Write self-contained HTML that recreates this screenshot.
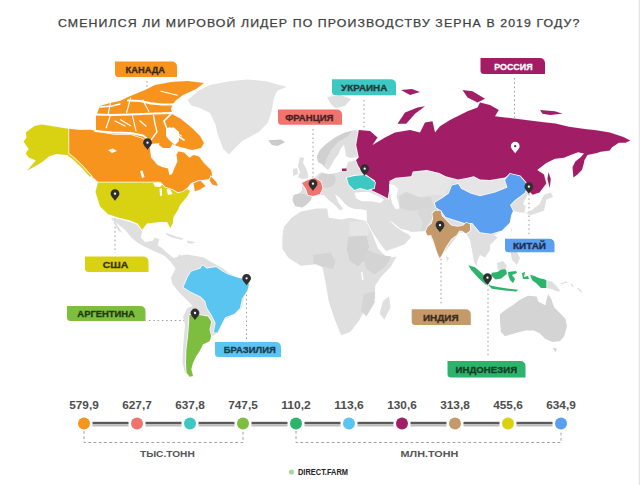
<!DOCTYPE html>
<html><head><meta charset="utf-8"><style>
html,body{margin:0;padding:0;background:#fff;width:640px;height:485px;overflow:hidden}
svg{display:block;font-family:"Liberation Sans",sans-serif}
</style></head><body>
<svg width="640" height="485" viewBox="0 0 640 485">
<line x1="147" y1="81" x2="147" y2="141" stroke="#9a9a9a" stroke-width="1" stroke-dasharray="1.5 2.8"/>
<line x1="364" y1="100" x2="364" y2="165" stroke="#9a9a9a" stroke-width="1" stroke-dasharray="1.5 2.8"/>
<line x1="313" y1="129" x2="313" y2="178" stroke="#9a9a9a" stroke-width="1" stroke-dasharray="1.5 2.8"/>
<line x1="514.5" y1="78" x2="514.5" y2="141" stroke="#9a9a9a" stroke-width="1" stroke-dasharray="1.5 2.8"/>
<line x1="529" y1="194" x2="529" y2="235" stroke="#9a9a9a" stroke-width="1" stroke-dasharray="1.5 2.8"/>
<line x1="115" y1="201" x2="115" y2="253" stroke="#9a9a9a" stroke-width="1" stroke-dasharray="1.5 2.8"/>
<line x1="149" y1="320.5" x2="190" y2="320.5" stroke="#9a9a9a" stroke-width="1" stroke-dasharray="1.5 2.8"/>
<line x1="246.5" y1="286" x2="246.5" y2="339" stroke="#9a9a9a" stroke-width="1" stroke-dasharray="1.5 2.8"/>
<line x1="441" y1="233" x2="441" y2="306" stroke="#9a9a9a" stroke-width="1" stroke-dasharray="1.5 2.8"/>
<line x1="488" y1="285" x2="488" y2="358" stroke="#9a9a9a" stroke-width="1" stroke-dasharray="1.5 2.8"/>
<path d="M187.5,100.0 L198.8,90.6 L210.0,85.0 L228.8,81.2 L247.5,79.4 L266.2,81.2 L286.9,86.9 L277.5,90.6 L273.8,98.1 L271.9,109.4 L268.1,122.5 L258.8,131.9 L241.9,141.2 L234.4,148.8 L228.8,154.4 L223.1,148.8 L217.5,133.8 L215.6,124.4 L210.0,113.1 L198.8,107.5 L191.2,105.6Z" fill="#e3e3e3"/>
<path d="M268.1,140.3 L281.2,139.4 L285.0,142.2 L277.5,146.0 L271.9,145.0Z" fill="#cbcbcb"/>
<path d="M327.0,97.0 L340.0,95.0 L351.0,99.0 L345.0,106.0 L335.0,108.0 L330.0,103.0Z" fill="#dfdfdf"/>
<path d="M110.9,218.0 L117.2,218.8 L129.7,221.9 L137.5,225.0 L142.2,231.2 L140.6,237.5 L145.3,242.2 L153.1,240.6 L154.7,237.5 L159.4,239.0 L157.8,245.3 L162.5,248.4 L167.2,253.1 L173.4,257.8 L178.1,259.4 L181.2,256.2 L179.0,254.0 L178.0,258.0 L171.9,259.4 L162.5,254.7 L151.6,250.0 L139.0,243.8 L131.2,237.5 L125.0,229.7 L117.2,223.4 L112.5,220.3Z" fill="#dfdfdf"/>
<path d="M114.0,220.3 L120.3,229.7 L121.9,232.8 L118.8,231.2 L114.0,223.4Z" fill="#dfdfdf"/>
<path d="M165.6,232.8 L175.0,235.9 L184.4,239.0 L181.2,239.8 L171.9,237.5 L167.2,235.2Z" fill="#dfdfdf"/>
<path d="M187.5,240.6 L195.3,242.2 L192.2,243.8 L187.5,243.0Z" fill="#dfdfdf"/>
<path d="M160.0,248.1 L166.2,254.4 L172.5,259.0 L178.8,255.9 L186.6,254.4 L195.9,255.9 L203.8,257.5 L211.6,262.2 L220.9,266.9 L228.8,273.1 L238.1,277.8 L246.0,279.4 L249.0,282.5 L247.5,288.8 L243.8,296.9 L241.9,308.1 L236.2,313.8 L225.0,319.4 L219.4,328.8 L215.6,334.4 L211.2,336.3 L209.5,341.2 L202.9,344.5 L199.6,351.2 L196.3,356.1 L193.0,362.7 L191.3,369.3 L193.0,375.9 L189.7,376.7 L184.8,372.6 L182.5,362.7 L183.0,349.5 L184.0,336.3 L185.0,324.8 L183.0,316.5 L187.5,308.0 L192.8,305.9 L186.6,299.7 L178.8,291.9 L172.5,284.0 L170.9,277.8 L175.6,268.4 L170.0,261.0 L163.0,254.0Z" fill="#dfdfdf"/>
<path d="M282.4,236.4 L283.9,227.1 L291.6,217.8 L300.9,211.6 L316.4,208.5 L327.2,208.5 L328.7,217.8 L341.1,219.4 L350.3,217.8 L365.8,220.9 L372.0,233.3 L378.2,248.7 L387.4,258.0 L396.7,256.4 L390.5,267.3 L381.2,276.5 L375.1,285.8 L375.1,298.2 L365.8,307.4 L359.6,319.8 L350.3,332.1 L341.1,335.2 L334.9,319.8 L328.7,301.2 L325.6,282.7 L322.5,267.3 L316.4,264.2 L300.9,265.7 L288.5,258.0 L282.4,248.7Z" fill="#dfdfdf"/>
<path d="M348.2,237.0 L366.4,235.6 L369.1,246.8 L363.6,260.7 L358.0,266.3 L349.6,260.7 L346.9,249.6Z" fill="#d2d2d2"/>
<path d="M366.4,249.6 L380.3,255.1 L391.4,256.5 L385.8,266.3 L374.7,274.6 L366.4,269.0 L363.6,260.7Z" fill="#d4d4d4"/>
<path d="M313.4,255.1 L330.1,252.4 L335.7,260.7 L332.9,269.0 L321.8,266.3 L313.4,263.5Z" fill="#d4d4d4"/>
<path d="M363.6,294.0 L374.7,291.4 L374.7,302.5 L366.4,316.4 L360.8,310.8Z" fill="#d5d5d5"/>
<path d="M349.6,221.7 L365.8,221.0 L369.0,230.0 L368.0,235.6 L349.6,235.6Z" fill="#e6e6e6"/>
<path d="M361.0,272.0 L362.5,272.0 L363.6,280.0 L362.0,280.0Z" fill="#ffffff"/>
<path d="M389.0,296.6 L390.5,307.4 L384.3,319.8 L379.7,313.6 L382.8,301.2Z" fill="#dfdfdf"/>
<path d="M292.5,200.0 L293.8,195.0 L299.0,193.5 L302.0,190.0 L302.0,183.0 L308.0,180.0 L315.0,177.0 L320.0,173.0 L326.0,171.0 L322.0,172.0 L324.0,175.0 L329.0,174.0 L336.0,173.0 L342.0,171.0 L346.0,168.0 L348.0,162.0 L356.0,160.0 L370.0,150.0 L400.0,165.0 L450.0,172.0 L500.0,175.0 L530.0,190.0 L522.5,205.0 L525.0,212.5 L520.0,212.5 L513.0,211.0 L511.0,216.0 L509.5,223.0 L502.0,231.0 L494.0,235.0 L497.5,237.5 L490.0,245.0 L490.0,250.0 L485.0,257.5 L480.0,255.0 L477.0,262.0 L477.0,266.0 L474.0,262.0 L472.0,250.0 L470.0,240.0 L466.0,233.0 L460.0,232.5 L440.0,258.0 L430.0,236.0 L427.0,231.0 L411.0,232.0 L408.0,230.5 L401.0,229.0 L392.0,222.0 L389.0,220.0 L395.0,226.0 L402.0,231.0 L408.0,234.0 L411.0,237.0 L405.0,244.0 L395.0,248.0 L386.0,251.0 L381.0,245.0 L373.0,233.0 L367.0,222.0 L366.6,210.6 L360.0,209.0 L355.0,209.0 L349.0,207.0 L345.0,204.0 L340.0,198.0 L335.0,194.0 L338.0,202.0 L343.0,208.8 L340.0,210.6 L333.8,204.0 L328.0,199.4 L324.0,195.0 L320.0,195.0 L313.0,196.0 L311.0,200.0 L306.0,205.0 L302.0,207.5 L295.0,206.0Z" fill="#dfdfdf"/>
<path d="M293.8,195.0 L299.0,193.5 L303.8,194.0 L311.0,196.0 L311.0,200.0 L306.0,205.0 L302.0,207.5 L295.0,206.0 L292.5,200.0Z" fill="#d0d0d0"/>
<path d="M318.0,178.0 L322.0,173.0 L329.0,174.0 L334.0,174.0 L336.0,180.0 L333.0,186.0 L326.0,188.0 L321.0,186.0Z" fill="#d3d3d3"/>
<path d="M389.0,181.0 L396.0,177.0 L411.0,175.0 L413.0,171.0 L427.0,170.0 L439.0,173.0 L446.0,176.0 L453.0,180.0 L448.3,187.5 L444.0,196.0 L434.0,194.5 L420.0,197.3 L406.0,191.7 L393.4,197.3 L389.0,190.0Z" fill="#e6e6e6"/>
<path d="M399.0,197.0 L406.0,192.0 L420.0,197.5 L431.0,197.0 L433.0,204.0 L430.0,211.0 L420.0,210.0 L410.0,211.0 L400.0,208.0Z" fill="#d6d6d6"/>
<path d="M452.5,180.0 L460.0,179.0 L468.0,177.5 L474.0,176.5 L480.0,179.5 L490.0,180.0 L505.0,177.5 L507.5,187.5 L495.0,192.5 L480.0,196.0 L470.6,193.4 L461.2,188.8Z" fill="#e5e5e5"/>
<path d="M420.0,208.0 L430.0,207.0 L435.0,203.0 L440.0,207.0 L435.0,213.0 L432.0,218.0 L428.0,224.0 L427.0,231.0 L421.0,231.0 L423.0,222.0 L418.0,214.0Z" fill="#d8d8d8"/>
<path d="M300.0,157.0 L304.0,158.0 L303.0,163.0 L306.0,168.0 L308.0,174.0 L308.0,178.0 L302.0,179.0 L298.0,177.0 L300.0,172.0 L298.0,166.0 L299.0,161.0Z" fill="#dfdfdf"/>
<path d="M293.0,169.0 L297.0,168.0 L298.0,174.0 L293.0,176.0Z" fill="#dfdfdf"/>
<path d="M317.0,156.0 L320.0,150.0 L325.0,145.0 L335.0,137.5 L345.0,132.5 L355.0,130.0 L359.0,131.0 L357.0,140.0 L356.0,148.0 L358.0,157.0 L350.0,158.0 L346.0,156.0 L345.0,150.0 L344.0,145.0 L341.0,148.0 L338.0,155.0 L334.0,160.0 L331.0,166.0 L328.0,170.0 L324.0,167.0 L322.0,164.0 L318.0,162.0Z" fill="#dfdfdf"/>
<path d="M317.0,156.0 L320.0,150.0 L325.0,145.0 L335.0,137.5 L345.0,132.5 L352.0,131.0 L348.0,136.0 L338.0,142.0 L331.0,150.0 L327.0,158.0 L324.0,166.0 L322.0,164.0 L318.0,162.0Z" fill="#d0d0d0"/>
<path d="M550.8,192.6 L553.0,197.0 L546.3,199.4 L544.0,210.7 L537.2,213.0 L530.4,215.2 L525.9,213.0 L532.7,209.6 L539.5,203.9 L544.0,194.8Z" fill="#dfdfdf"/>
<path d="M510.0,250.0 L515.0,248.0 L520.0,258.0 L517.0,265.0 L512.0,260.0Z" fill="#dfdfdf"/>
<path d="M446.0,256.0 L449.0,258.0 L447.0,262.0Z" fill="#dfdfdf"/>
<path d="M500.0,314.0 L505.0,310.2 L513.7,304.4 L519.4,300.1 L528.1,295.8 L536.7,296.5 L538.2,301.5 L545.4,305.2 L546.8,298.7 L548.3,294.3 L551.2,298.7 L554.1,307.3 L561.3,314.5 L565.6,318.9 L567.0,326.1 L564.2,336.2 L559.8,341.2 L552.6,342.0 L545.4,339.1 L539.6,333.3 L533.9,330.4 L525.2,330.4 L515.1,333.3 L505.0,336.2 L501.0,332.0 L500.0,322.0Z" fill="#d4d4d4"/>
<path d="M552.6,347.7 L557.0,348.4 L555.5,352.0Z" fill="#d4d4d4"/>
<path d="M546.4,280.3 L551.9,281.4 L556.2,285.8 L560.6,291.2 L556.2,291.2 L551.9,289.0 L546.4,288.0Z" fill="#dfdfdf"/>
<path d="M68.8,128.8 L80.0,130.0 L90.0,129.8 L102.2,131.9 L114.4,133.9 L130.6,133.9 L142.8,138.0 L147.0,142.0 L150.0,148.8 L151.0,157.5 L157.5,165.0 L162.0,167.0 L168.0,168.5 L169.4,175.2 L172.1,173.9 L174.8,167.2 L177.4,161.8 L176.1,151.1 L184.1,152.4 L189.5,157.8 L193.5,155.1 L198.9,156.5 L204.2,163.2 L211.0,169.9 L212.3,175.2 L208.3,179.2 L197.5,180.6 L190.8,183.3 L186.8,188.6 L182.8,192.7 L177.5,195.0 L172.5,190.0 L165.0,187.5 L160.0,182.5 L99.0,182.7 L91.4,176.1 L81.6,165.2 L74.0,158.0 L68.4,153.3Z" fill="#f7941d" stroke="#fbfbfb" stroke-width="1.6" paint-order="stroke"/>
<path d="M98.0,182.6 L160.0,182.5 L165.0,187.5 L172.5,190.0 L177.5,193.0 L183.0,192.0 L187.0,189.0 L190.0,191.0 L187.5,196.0 L180.0,205.0 L178.1,209.4 L173.4,217.2 L172.7,223.4 L170.3,228.1 L167.2,221.9 L159.4,221.9 L146.9,223.4 L142.2,229.7 L137.5,223.4 L129.7,220.3 L117.2,217.2 L107.8,214.0 L100.0,206.2 L95.5,192.0Z" fill="#d8d212" stroke="#fbfbfb" stroke-width="1.6" paint-order="stroke"/>
<path d="M25.8,132.4 L34.4,125.9 L41.7,124.4 L68.4,128.8 L68.4,153.5 L74.0,158.0 L81.6,165.2 L91.4,176.1 L90.0,177.0 L80.5,166.5 L73.0,159.5 L67.0,155.0 L56.4,154.0 L48.8,156.4 L42.2,161.9 L37.3,164.9 L27.2,170.6 L35.9,160.5 L28.7,157.6 L25.8,153.3 L28.7,149.0 L23.6,141.8 L26.5,137.4Z" fill="#d8d212" stroke="#fbfbfb" stroke-width="1.6" paint-order="stroke"/>
<path d="M183.4,287.2 L188.1,276.2 L191.2,271.6 L200.6,268.4 L202.2,265.3 L206.9,268.4 L216.2,266.9 L222.5,271.6 L228.8,274.7 L238.1,277.8 L246.0,279.4 L249.0,284.0 L247.5,290.3 L242.0,298.8 L240.0,308.1 L234.4,313.8 L225.0,317.5 L221.2,325.0 L217.5,332.5 L213.8,332.5 L215.6,323.1 L211.9,315.6 L206.9,307.5 L205.3,301.2 L200.6,296.6 L191.2,291.9Z" fill="#5bc5f2" stroke="#fbfbfb" stroke-width="1.6" paint-order="stroke"/>
<path d="M189.4,315.0 L199.0,315.0 L207.9,316.5 L211.2,321.5 L209.5,329.7 L211.2,336.3 L209.5,341.2 L202.9,344.5 L199.6,351.2 L196.3,356.1 L193.0,362.7 L191.3,369.3 L193.0,375.9 L189.7,376.7 L186.5,372.6 L186.0,362.7 L186.4,349.5 L188.0,336.3 L189.0,324.8Z" fill="#7dbd3f" stroke="#fbfbfb" stroke-width="1.6" paint-order="stroke"/>
<path d="M356.0,160.0 L358.8,157.5 L356.2,145.0 L358.8,130.0 L370.0,131.0 L377.5,137.5 L372.5,145.0 L385.0,137.5 L395.0,132.5 L410.0,130.0 L420.0,132.5 L425.0,122.5 L432.5,121.2 L435.0,132.5 L440.0,126.2 L450.0,120.0 L457.5,116.2 L467.5,111.2 L477.5,107.5 L480.0,102.5 L490.0,105.0 L498.8,110.0 L495.0,116.2 L505.0,117.5 L525.9,120.0 L544.0,122.3 L555.4,123.4 L569.0,126.8 L584.8,129.0 L596.2,130.2 L609.8,132.5 L623.4,137.0 L630.2,140.4 L625.6,142.7 L618.8,142.7 L612.0,147.2 L609.8,150.6 L600.7,151.8 L596.9,153.1 L587.5,155.0 L584.5,160.0 L583.8,163.4 L581.9,170.0 L577.2,174.7 L573.4,177.5 L572.5,167.2 L575.3,161.6 L581.0,156.9 L584.0,153.5 L578.0,152.2 L570.6,155.0 L564.0,157.8 L555.0,158.8 L546.3,163.1 L537.2,169.9 L544.0,174.4 L546.3,183.5 L539.5,192.6 L532.7,194.8 L528.1,190.3 L523.6,179.0 L520.0,176.2 L510.0,173.8 L505.0,177.5 L490.0,180.0 L480.0,179.4 L473.8,176.2 L467.5,177.8 L458.1,179.4 L445.6,176.2 L439.4,173.1 L426.9,170.0 L412.8,171.6 L411.2,176.2 L395.6,177.8 L389.4,181.0 L389.4,188.8 L387.8,197.3 L388.1,198.4 L382.5,195.6 L376.9,192.8 L371.2,190.0 L375.0,186.2 L375.0,180.6 L369.4,176.9 L361.9,171.2 L358.1,165.6Z" fill="#a11e66" stroke="#fbfbfb" stroke-width="1.6" paint-order="stroke"/>
<path d="M397.5,123.8 L405.0,112.5 L417.5,107.5 L425.0,106.2 L415.0,113.8 L406.2,123.8Z" fill="#a11e66"/>
<path d="M462.5,90.0 L472.5,91.2 L485.0,98.8 L477.5,102.5 L467.5,97.5Z" fill="#a11e66"/>
<path d="M540.0,110.0 L555.0,111.2 L562.5,113.8 L550.0,115.0 L542.5,113.8Z" fill="#a11e66"/>
<path d="M548.5,172.2 L550.8,179.0 L549.7,188.0 L547.4,179.0Z" fill="#a11e66"/>
<path d="M401.0,90.0 L412.0,89.0 L420.0,92.0 L410.0,95.0Z" fill="#a11e66"/>
<path d="M434.7,202.8 L442.5,198.1 L448.8,193.4 L451.9,185.6 L458.1,184.0 L461.2,188.8 L470.6,193.4 L480.0,196.2 L495.0,192.5 L507.5,187.5 L505.0,180.0 L510.0,173.8 L520.0,176.2 L527.5,185.0 L525.0,192.5 L515.0,200.0 L510.0,205.0 L513.0,211.0 L511.2,215.0 L509.7,222.8 L501.9,230.6 L491.0,233.8 L480.0,232.2 L472.2,223.1 L464.4,223.1 L455.0,220.0 L445.6,216.9 L440.9,210.6 L436.2,207.5Z" fill="#5a9ff0" stroke="#fbfbfb" stroke-width="1.6" paint-order="stroke"/>
<path d="M435.1,210.7 L440.5,210.7 L441.8,216.1 L445.8,220.1 L451.2,225.5 L457.9,226.8 L463.3,225.5 L466.0,222.8 L470.0,224.1 L470.0,230.8 L466.0,233.5 L461.9,230.8 L459.3,230.8 L456.6,234.9 L451.2,238.9 L445.8,246.9 L441.8,255.0 L439.8,258.3 L437.1,252.3 L433.8,241.6 L431.1,234.9 L427.7,235.5 L425.7,231.5 L427.7,226.8 L431.8,223.5 L433.1,218.8 L432.4,213.4Z" fill="#c59a6a" stroke="#fbfbfb" stroke-width="1.6" paint-order="stroke"/>
<path d="M346.9,177.8 L354.4,175.9 L363.8,175.0 L369.4,177.8 L375.0,182.5 L374.1,188.1 L367.5,190.0 L360.0,188.1 L354.4,190.0 L348.8,184.4Z" fill="#3ec8c3" stroke="#fbfbfb" stroke-width="1.6" paint-order="stroke"/>
<path d="M302.0,183.0 L308.0,180.0 L315.0,178.0 L321.0,182.0 L322.5,188.0 L320.0,194.0 L313.0,196.0 L308.0,195.0 L306.0,189.0Z" fill="#f0736e" stroke="#fbfbfb" stroke-width="1.6" paint-order="stroke"/>
<path d="M354.4,192.8 L361.9,191.9 L369.4,191.9 L376.9,195.6 L384.4,199.4 L380.6,203.1 L371.2,201.2 L361.9,201.2 L356.2,198.4Z" fill="#ffffff"/>
<path d="M389.0,184.0 L394.0,185.0 L398.0,189.0 L396.5,196.0 L398.5,203.0 L399.5,208.5 L395.5,209.0 L392.0,203.0 L390.5,196.0 L389.0,190.0Z" fill="#ffffff"/>
<path d="M468.4,265.3 L475.0,267.2 L482.5,273.8 L488.1,281.2 L490.0,286.0 L486.2,285.0 L478.8,278.4 L471.2,270.0Z" fill="#2db36b" stroke="#fbfbfb" stroke-width="1.6" paint-order="stroke"/>
<path d="M488.1,285.0 L497.5,286.9 L508.8,288.8 L518.1,289.7 L516.2,291.6 L505.0,290.6 L491.9,288.8Z" fill="#2db36b" stroke="#fbfbfb" stroke-width="1.6" paint-order="stroke"/>
<path d="M491.9,272.8 L497.5,271.9 L503.1,268.1 L506.0,270.0 L506.9,273.8 L501.2,278.4 L495.6,279.4 L491.0,275.6Z" fill="#2db36b" stroke="#fbfbfb" stroke-width="1.6" paint-order="stroke"/>
<path d="M508.0,272.0 L516.0,271.0 L517.0,273.0 L512.0,275.0 L515.0,279.0 L513.0,283.0 L510.0,280.0 L508.5,276.0Z" fill="#2db36b" stroke="#fbfbfb" stroke-width="1.6" paint-order="stroke"/>
<path d="M530.0,274.8 L534.4,276.0 L538.8,278.0 L544.2,279.2 L546.4,280.3 L546.4,288.0 L541.0,288.0 L536.6,283.6 L532.2,280.3Z" fill="#2db36b" stroke="#fbfbfb" stroke-width="1.6" paint-order="stroke"/>
<path d="M96.0,116.0 L100.0,106.0 L110.0,103.0 L120.0,101.0 L128.0,97.0 L145.0,90.0 L155.0,85.0 L171.0,82.0 L187.5,81.0 L204.0,83.0 L196.0,89.0 L183.0,95.0 L175.0,101.0 L171.0,108.0 L172.0,114.0 L181.0,119.0 L192.0,128.0 L200.0,136.0 L204.0,143.0 L201.0,148.0 L192.0,150.0 L184.0,148.0 L177.0,146.0 L170.0,143.0 L160.0,143.0 L150.0,144.0 L142.8,138.0 L130.6,133.9 L114.4,133.9 L102.2,131.9 L96.0,130.0Z" fill="#f7941d" stroke="#fbfbfb" stroke-width="1.6" paint-order="stroke"/>
<path d="M497.0,263.0 L503.0,261.0 L507.0,266.0 L506.0,269.0 L498.0,270.0Z" fill="#dfdfdf"/>
<path d="M522.0,273.0 L525.0,272.0 L524.0,277.0 L528.0,276.0 L529.0,279.0 L523.0,279.0Z" fill="#2db36b"/>
<path d="M519.0,201.6 L525.9,206.2 L523.6,213.0 L519.0,210.7Z" fill="#dfdfdf"/>
<path d="M342.0,168.5 L346.5,168.5 L346.5,171.0 L342.0,171.0Z" fill="#a11e66"/>
<path d="M140.0,171.0 L142.5,170.5 L144.5,177.0 L142.0,178.0Z" fill="#ffffff"/>
<path d="M108.0,150.0 L113.0,148.5 L117.0,151.0 L112.0,153.0Z" fill="#ffffff"/>
<path d="M153.0,183.0 L158.0,182.5 L163.0,184.0 L160.0,187.0 L155.0,186.5Z" fill="#ffffff"/>
<path d="M159.5,188.5 L162.0,188.5 L162.0,195.5 L160.0,196.0Z" fill="#ffffff"/>
<path d="M166.5,189.5 L170.0,189.0 L172.5,194.0 L168.0,195.0Z" fill="#ffffff"/>
<path d="M211.0,176.6 L216.3,182.0 L217.7,186.0 L212.3,184.6 L209.6,180.6Z" fill="#f7941d" stroke="#fbfbfb" stroke-width="1.6" paint-order="stroke"/>
<path d="M193.5,183.3 L200.2,180.6 L205.6,186.0 L198.9,190.0 L194.9,191.3Z" fill="#f7941d" stroke="#fbfbfb" stroke-width="1.6" paint-order="stroke"/>
<path d="M510.5,228.0 L512.5,229.0 L511.0,232.5Z" fill="#dfdfdf"/>
<path d="M491.0,237.5 L494.0,237.5 L492.5,240.0Z" fill="#dfdfdf"/>
<path d="M560.6,283.2 L567.0,281.2 L567.5,282.4 L561.0,284.2Z" fill="#dfdfdf"/>
<path d="M570.5,283.6 L572.0,283.8 L573.8,286.9 L572.2,287.0Z" fill="#dfdfdf"/>
<path d="M577.0,288.0 L578.5,288.0 L582.5,292.0 L581.0,292.4Z" fill="#dfdfdf"/>
<path d="M166.0,128.0 L174.0,127.5 L179.0,132.0 L179.0,141.0 L175.0,145.0 L170.0,141.0 L166.0,136.0Z" fill="#ffffff"/>
<path d="M150.0,146.0 L158.0,147.0 L166.0,149.0 L175.0,148.5 L179.0,150.0 L177.0,154.0 L151.0,154.0Z" fill="#ffffff"/>
<path d="M160.0,141.0 L166.0,140.0 L172.5,144.0 L170.0,148.0 L163.0,148.0 L159.0,145.0Z" fill="#f7941d"/>
<path d="M128,100.5 L140,101 L151,103.4 L162,104.5 L176,104.5" fill="none" stroke="#fff" stroke-width="2.2" stroke-linejoin="round" stroke-linecap="round"/>
<path d="M95,114.6 L112,115 L130.6,114.6 L155,113.6 L172,113" fill="none" stroke="#fff" stroke-width="2.0" stroke-linejoin="round" stroke-linecap="round"/>
<path d="M95,131 L112,132.5 L130.6,133 L143,135.5 L150,141" fill="none" stroke="#fff" stroke-width="1.8" stroke-linejoin="round" stroke-linecap="round"/>
<path d="M153.5,115.6 L155,124 L157,131.9 L151,140" fill="none" stroke="#fff" stroke-width="1.4" stroke-linejoin="round" stroke-linecap="round"/>
<path d="M110.3,115.6 L106.25,127.8" fill="none" stroke="#fff" stroke-width="1.2" stroke-linejoin="round" stroke-linecap="round"/>
<path d="M110.3,103.4 L108.3,113.6" fill="none" stroke="#fff" stroke-width="1.2" stroke-linejoin="round" stroke-linecap="round"/>
<path d="M130.6,98 L126.6,112.6" fill="none" stroke="#fff" stroke-width="1.2" stroke-linejoin="round" stroke-linecap="round"/>
<path d="M142.8,100 L148.9,111.6" fill="none" stroke="#fff" stroke-width="1.1" stroke-linejoin="round" stroke-linecap="round"/>
<path d="M120.5,119.7 L130.6,125.8" fill="none" stroke="#fff" stroke-width="1.1" stroke-linejoin="round" stroke-linecap="round"/>
<path d="M132.5,116 L136,131" fill="none" stroke="#fff" stroke-width="1.1" stroke-linejoin="round" stroke-linecap="round"/>
<path d="M169.2,127.8 L181.4,136" fill="none" stroke="#fff" stroke-width="1.1" stroke-linejoin="round" stroke-linecap="round"/>
<path d="M161,91.25 L177.3,95.3" fill="none" stroke="#fff" stroke-width="1.1" stroke-linejoin="round" stroke-linecap="round"/>
<path d="M171,114 L164,121 L167,129 L184,140" fill="none" stroke="#fff" stroke-width="1.6" stroke-linejoin="round" stroke-linecap="round"/>
<path d="M100,107 L112,106 L120,104" fill="none" stroke="#fff" stroke-width="1.3" stroke-linejoin="round" stroke-linecap="round"/>
<path d="M140,121 L146,126" fill="none" stroke="#fff" stroke-width="1.2" stroke-linejoin="round" stroke-linecap="round"/>
<path d="M115,121 L125,126" fill="none" stroke="#fff" stroke-width="1.2" stroke-linejoin="round" stroke-linecap="round"/>
<path d="M147.5,150 C146.3,147.4 143.1,145.29999999999998 143.1,142.7 A4.4,4.4 0 1 1 151.9,142.7 C151.9,145.29999999999998 148.7,147.4 147.5,150 Z" fill="#2f2f2f"/><circle cx="147.5" cy="142.7" r="1.15" fill="#fff"/>
<path d="M115,201 C113.8,198.4 110.6,196.29999999999998 110.6,193.7 A4.4,4.4 0 1 1 119.4,193.7 C119.4,196.29999999999998 116.2,198.4 115,201 Z" fill="#2f2f2f"/><circle cx="115" cy="193.7" r="1.15" fill="#fff"/>
<path d="M313,191 C311.8,188.4 308.6,186.29999999999998 308.6,183.7 A4.4,4.4 0 1 1 317.4,183.7 C317.4,186.29999999999998 314.2,188.4 313,191 Z" fill="#2f2f2f"/><circle cx="313" cy="183.7" r="1.15" fill="#fff"/>
<path d="M364.7,176 C363.5,173.4 360.3,171.29999999999998 360.3,168.7 A4.4,4.4 0 1 1 369.09999999999997,168.7 C369.09999999999997,171.29999999999998 365.9,173.4 364.7,176 Z" fill="#2f2f2f"/><circle cx="364.7" cy="168.7" r="1.15" fill="#fff"/>
<path d="M515.2,153.5 C514.0,150.9 510.80000000000007,148.79999999999998 510.80000000000007,146.2 A4.4,4.4 0 1 1 519.6,146.2 C519.6,148.79999999999998 516.4000000000001,150.9 515.2,153.5 Z" fill="#ffffff"/><circle cx="515.2" cy="146.2" r="1.15" fill="#3a3a3a"/>
<path d="M528.9,194 C527.6999999999999,191.4 524.5,189.29999999999998 524.5,186.7 A4.4,4.4 0 1 1 533.3,186.7 C533.3,189.29999999999998 530.1,191.4 528.9,194 Z" fill="#2f2f2f"/><circle cx="528.9" cy="186.7" r="1.15" fill="#fff"/>
<path d="M440,232.5 C438.8,229.9 435.6,227.79999999999998 435.6,225.2 A4.4,4.4 0 1 1 444.4,225.2 C444.4,227.79999999999998 441.2,229.9 440,232.5 Z" fill="#2f2f2f"/><circle cx="440" cy="225.2" r="1.15" fill="#fff"/>
<path d="M487.5,285 C486.3,282.4 483.1,280.3 483.1,277.7 A4.4,4.4 0 1 1 491.9,277.7 C491.9,280.3 488.7,282.4 487.5,285 Z" fill="#2f2f2f"/><circle cx="487.5" cy="277.7" r="1.15" fill="#fff"/>
<path d="M246.6,285.6 C245.4,283.0 242.2,280.90000000000003 242.2,278.3 A4.4,4.4 0 1 1 251.0,278.3 C251.0,280.90000000000003 247.79999999999998,283.0 246.6,285.6 Z" fill="#2f2f2f"/><circle cx="246.6" cy="278.3" r="1.15" fill="#fff"/>
<path d="M195,320.3 C193.8,317.7 190.6,315.6 190.6,313.0 A4.4,4.4 0 1 1 199.4,313.0 C199.4,315.6 196.2,317.7 195,320.3 Z" fill="#2f2f2f"/><circle cx="195" cy="313.0" r="1.15" fill="#fff"/>
<path d="M115,61.5 L171.5,61.5 Q177,61.5 177,67.0 L177,77 L118.5,77 Q115,77 115,73.5 Z" fill="#f7941d"/><text x="145.3" y="73.0" font-size="9.2" font-weight="bold" fill="#3b2a14" stroke="#3b2a14" stroke-width="0.3" text-anchor="middle" textLength="39.4" lengthAdjust="spacingAndGlyphs">КАНАДА</text>
<path d="M332,79.3 L390.5,79.3 Q396,79.3 396,84.8 L396,95.3 L335.5,95.3 Q332,95.3 332,91.8 Z" fill="#3ec8c3"/><text x="364.2" y="91.0" font-size="9.2" font-weight="bold" fill="#1b3b3a" stroke="#1b3b3a" stroke-width="0.3" text-anchor="middle" textLength="46.3" lengthAdjust="spacingAndGlyphs">УКРАИНА</text>
<path d="M278,109.5 L336.5,109.5 Q342,109.5 342,115.0 L342,124.8 L281.5,124.8 Q278,124.8 278,121.3 Z" fill="#f0736e"/><text x="309.3" y="120.9" font-size="9.2" font-weight="bold" fill="#4a1f1f" stroke="#4a1f1f" stroke-width="0.3" text-anchor="middle" textLength="48.2" lengthAdjust="spacingAndGlyphs">ФРАНЦИЯ</text>
<path d="M480.5,58 L539.5,58 Q545,58 545,63.5 L545,74 L484.0,74 Q480.5,74 480.5,70.5 Z" fill="#a11e66"/><text x="513.4" y="69.7" font-size="9.2" font-weight="bold" fill="#ffffff" stroke="#ffffff" stroke-width="0.3" text-anchor="middle" textLength="38.3" lengthAdjust="spacingAndGlyphs">РОССИЯ</text>
<path d="M505,238.7 L549.0,238.7 Q554.5,238.7 554.5,244.2 L554.5,252.3 L508.5,252.3 Q505,252.3 505,248.8 Z" fill="#5a9ff0"/><text x="529.5" y="249.2" font-size="9.2" font-weight="bold" fill="#1b2f4f" stroke="#1b2f4f" stroke-width="0.3" text-anchor="middle" textLength="33.0" lengthAdjust="spacingAndGlyphs">КИТАЙ</text>
<path d="M85,256.5 L143.0,256.5 Q148.5,256.5 148.5,262.0 L148.5,272 L88.5,272 Q85,272 85,268.5 Z" fill="#d8d212"/><text x="115.5" y="267.9" font-size="9.2" font-weight="bold" fill="#3a3300" stroke="#3a3300" stroke-width="0.3" text-anchor="middle" textLength="25.6" lengthAdjust="spacingAndGlyphs">США</text>
<path d="M67,306 L140.0,306 Q145.5,306 145.5,311.5 L145.5,321 L70.5,321 Q67,321 67,317.5 Z" fill="#7dbd3f"/><text x="106.1" y="317.2" font-size="9.2" font-weight="bold" fill="#1f3a10" stroke="#1f3a10" stroke-width="0.3" text-anchor="middle" textLength="57.5" lengthAdjust="spacingAndGlyphs">АРГЕНТИНА</text>
<path d="M215,342 L275.5,342 Q281,342 281,347.5 L281,357 L218.5,357 Q215,357 215,353.5 Z" fill="#5bc5f2"/><text x="249.8" y="353.2" font-size="9.2" font-weight="bold" fill="#1b3a52" stroke="#1b3a52" stroke-width="0.3" text-anchor="middle" textLength="52.1" lengthAdjust="spacingAndGlyphs">БРАЗИЛИЯ</text>
<path d="M411.7,309.3 L465.3,309.3 Q470.8,309.3 470.8,314.8 L470.8,325 L415.2,325 Q411.7,325 411.7,321.5 Z" fill="#c59a6a"/><text x="440.8" y="320.8" font-size="9.2" font-weight="bold" fill="#3b2a1a" stroke="#3b2a1a" stroke-width="0.3" text-anchor="middle" textLength="35.6" lengthAdjust="spacingAndGlyphs">ИНДИЯ</text>
<path d="M447.5,361 L520.0,361 Q525.5,361 525.5,366.5 L525.5,377.5 L451.0,377.5 Q447.5,377.5 447.5,374.0 Z" fill="#2db36b"/><text x="486.4" y="372.9" font-size="9.2" font-weight="bold" fill="#133d24" stroke="#133d24" stroke-width="0.3" text-anchor="middle" textLength="61.6" lengthAdjust="spacingAndGlyphs">ИНДОНЕЗИЯ</text>
<rect x="92.5" y="421.8" width="36.0" height="2.3" fill="#5a5a5a"/><rect x="92.5" y="424.1" width="36.0" height="2.4" fill="#bdbdbd"/>
<rect x="145.5" y="421.8" width="36.0" height="2.3" fill="#5a5a5a"/><rect x="145.5" y="424.1" width="36.0" height="2.4" fill="#bdbdbd"/>
<rect x="198.5" y="421.8" width="36.0" height="2.3" fill="#5a5a5a"/><rect x="198.5" y="424.1" width="36.0" height="2.4" fill="#bdbdbd"/>
<rect x="251.5" y="421.8" width="36.0" height="2.3" fill="#5a5a5a"/><rect x="251.5" y="424.1" width="36.0" height="2.4" fill="#bdbdbd"/>
<rect x="304.5" y="421.8" width="36.0" height="2.3" fill="#5a5a5a"/><rect x="304.5" y="424.1" width="36.0" height="2.4" fill="#bdbdbd"/>
<rect x="357.5" y="421.8" width="36.0" height="2.3" fill="#5a5a5a"/><rect x="357.5" y="424.1" width="36.0" height="2.4" fill="#bdbdbd"/>
<rect x="410.5" y="421.8" width="36.0" height="2.3" fill="#5a5a5a"/><rect x="410.5" y="424.1" width="36.0" height="2.4" fill="#bdbdbd"/>
<rect x="463.5" y="421.8" width="36.0" height="2.3" fill="#5a5a5a"/><rect x="463.5" y="424.1" width="36.0" height="2.4" fill="#bdbdbd"/>
<rect x="516.5" y="421.8" width="36.0" height="2.3" fill="#5a5a5a"/><rect x="516.5" y="424.1" width="36.0" height="2.4" fill="#bdbdbd"/>
<circle cx="84" cy="423.5" r="6" fill="#f7941d"/>
<text x="84" y="408.8" font-size="10.2" font-weight="bold" fill="#4d4d4d" text-anchor="middle" textLength="29.5" lengthAdjust="spacingAndGlyphs">579,9</text>
<circle cx="137" cy="423.5" r="6" fill="#f0736e"/>
<text x="137" y="408.8" font-size="10.2" font-weight="bold" fill="#4d4d4d" text-anchor="middle" textLength="29.5" lengthAdjust="spacingAndGlyphs">627,7</text>
<circle cx="190" cy="423.5" r="6" fill="#3ec8c3"/>
<text x="190" y="408.8" font-size="10.2" font-weight="bold" fill="#4d4d4d" text-anchor="middle" textLength="29.5" lengthAdjust="spacingAndGlyphs">637,8</text>
<circle cx="243" cy="423.5" r="6" fill="#7dbd3f"/>
<text x="243" y="408.8" font-size="10.2" font-weight="bold" fill="#4d4d4d" text-anchor="middle" textLength="29.5" lengthAdjust="spacingAndGlyphs">747,5</text>
<circle cx="296" cy="423.5" r="6" fill="#2db36b"/>
<text x="296" y="408.8" font-size="10.2" font-weight="bold" fill="#4d4d4d" text-anchor="middle" textLength="29.5" lengthAdjust="spacingAndGlyphs">110,2</text>
<circle cx="349" cy="423.5" r="6" fill="#5bc5f2"/>
<text x="349" y="408.8" font-size="10.2" font-weight="bold" fill="#4d4d4d" text-anchor="middle" textLength="29.5" lengthAdjust="spacingAndGlyphs">113,6</text>
<circle cx="402" cy="423.5" r="6" fill="#a11e66"/>
<text x="402" y="408.8" font-size="10.2" font-weight="bold" fill="#4d4d4d" text-anchor="middle" textLength="29.5" lengthAdjust="spacingAndGlyphs">130,6</text>
<circle cx="455" cy="423.5" r="6" fill="#c59a6a"/>
<text x="455" y="408.8" font-size="10.2" font-weight="bold" fill="#4d4d4d" text-anchor="middle" textLength="29.5" lengthAdjust="spacingAndGlyphs">313,8</text>
<circle cx="508" cy="423.5" r="6" fill="#d8d212"/>
<text x="508" y="408.8" font-size="10.2" font-weight="bold" fill="#4d4d4d" text-anchor="middle" textLength="29.5" lengthAdjust="spacingAndGlyphs">455,6</text>
<circle cx="561" cy="423.5" r="6" fill="#5a9ff0"/>
<text x="561" y="408.8" font-size="10.2" font-weight="bold" fill="#4d4d4d" text-anchor="middle" textLength="29.5" lengthAdjust="spacingAndGlyphs">634,9</text>
<path d="M84,431 V442.5 H243 V431" fill="none" stroke="#a0a0a0" stroke-width="1" stroke-dasharray="2.8 2.45"/>
<path d="M296,431 V442.5 H561 V431" fill="none" stroke="#a0a0a0" stroke-width="1" stroke-dasharray="2.8 2.45"/>
<text x="140" y="457" font-size="9.8" font-weight="bold" fill="#555" textLength="54.7" lengthAdjust="spacingAndGlyphs">ТЫС.ТОНН</text>
<text x="400.6" y="457" font-size="9.8" font-weight="bold" fill="#555" textLength="57.8" lengthAdjust="spacingAndGlyphs">МЛН.ТОНН</text>
<circle cx="291.5" cy="472" r="2.6" fill="#a8d8a0"/>
<text x="298" y="475.2" font-size="8.2" font-weight="bold" fill="#222" textLength="50" lengthAdjust="spacingAndGlyphs">DIRECT.FARM</text>
<text x="58" y="27" font-size="11.2" font-weight="normal" fill="#404040" stroke="#404040" stroke-width="0.25" letter-spacing="1" textLength="522.5" lengthAdjust="spacingAndGlyphs">СМЕНИЛСЯ ЛИ МИРОВОЙ ЛИДЕР ПО ПРОИЗВОДСТВУ ЗЕРНА В 2019 ГОДУ?</text>
<rect x="638" y="0" width="1" height="485" fill="#f6f6f6"/><rect x="639" y="0" width="1" height="485" fill="#e6e6e6"/>
</svg>
</body></html>
